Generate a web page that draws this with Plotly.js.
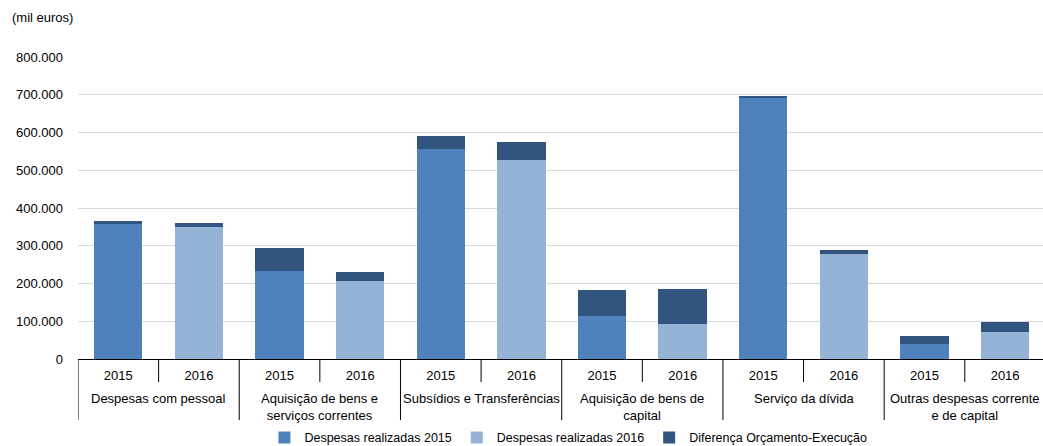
<!DOCTYPE html>
<html>
<head>
<meta charset="utf-8">
<script src="https://cdn.plot.ly/plotly-3.0.1.min.js"></script>
<style>html,body{margin:0;padding:0;background:#fff;}#chart{width:1043px;height:446px;}</style>
</head>
<body>
<div id="chart"></div>
<script>
const categories = ["Despesas com pessoal", "Aquisição de bens e<br>serviços correntes", "Subsídios e Transferências", "Aquisição de bens de<br>capital", "Serviço da dívida", "Outras despesas corrente<br>e de capital"];
const years = ["2015", "2016"];
const realizadas2015 = [357000, 233000, 557000, 115000, 691000, 41000];
const realizadas2016 = [349000, 206000, 527000, 93000, 278000, 71000];
const diferenca2015 = [9000, 62000, 34000, 69000, 6000, 21000];
const diferenca2016 = [10000, 25000, 47000, 92000, 12000, 26000];
const seriesNames = ["Despesas realizadas 2015", "Despesas realizadas 2016", "Diferença Orçamento-Execução"];
const yTitle = "(mil euros)";

// slot index for each (category, year) pair
const xIdx = [], yearText = [], y15 = [], y16 = [], yDiff = [];
categories.forEach((c, i) => {
  years.forEach((yr, j) => {
    xIdx.push(i * years.length + j);
    yearText.push(yr);
    y15.push(j === 0 ? realizadas2015[i] : null);
    y16.push(j === 1 ? realizadas2016[i] : null);
    yDiff.push(j === 0 ? diferenca2015[i] : diferenca2016[i]);
  });
});
const font = {family: "Liberation Sans, Arial, sans-serif", size: 13, color: "#000"};

const traces = [
  {type: "bar", name: seriesNames[0], x: xIdx, y: y15, marker: {color: "#4F81BD"}},
  {type: "bar", name: seriesNames[1], x: xIdx, y: y16, marker: {color: "#95B3D7"}},
  {type: "bar", name: seriesNames[2], x: xIdx, y: yDiff, marker: {color: "#325580"}}
];

// axis decoration: boundary lines and category labels
const plotH = 446 - 57 - 87;
const shapes = [];
const annotations = [{text: yTitle, xref: "paper", yref: "paper", x: -0.07, y: 1.13, xanchor: "left", yanchor: "middle", showarrow: false, font: font}];
for (let k = 0; k <= xIdx.length; k++) {
  const isCat = k % years.length === 0;
  const len = isCat ? 61 : 23;
  shapes.push({type: "line", xref: "x", yref: "paper", x0: k - 0.5, x1: k - 0.5, y0: 0, y1: -len / plotH,
               line: {color: "#000", width: 1}});
}
categories.forEach((c, i) => {
  annotations.push({text: c, xref: "x", yref: "paper", x: i * years.length + (years.length - 1) / 2,
                    y: -30 / plotH, yanchor: "top", xanchor: "center", showarrow: false, font: font});
});

const layout = {
  width: 1043, height: 446,
  margin: {l: 78, r: 0, t: 57, b: 87},
  barmode: "stack",
  bargap: 0.4,
  separators: ",.",
  font: font,
  paper_bgcolor: "#fff", plot_bgcolor: "#fff",
  showlegend: true,
  legend: {orientation: "h", xref: "container", yref: "container", x: 0.545, xanchor: "center", y: 0.018, yanchor: "middle",
           font: {family: font.family, size: 12.5}, traceorder: "normal", itemwidth: 30},
  xaxis: {
    type: "linear", automargin: false,
    range: [-0.5, 11.47],
    tickmode: "array", tickvals: xIdx, ticktext: yearText,
    showline: true, linecolor: "#000", linewidth: 1,
    ticks: "", ticklabelstandoff: 4,
    showgrid: false, zeroline: false, tickfont: font
  },
  yaxis: {
    range: [0, 800000], dtick: 100000, tickformat: ",d", automargin: false,
    showgrid: true, gridcolor: "#d9d9d9", gridwidth: 1,
    zeroline: false, showline: false, ticks: "",
    ticklabelstandoff: 14, tickfont: font
  },
  shapes: shapes,
  annotations: annotations
};

Plotly.newPlot("chart", traces, layout, {displayModeBar: false, staticPlot: true});
</script>
</body>
</html>
